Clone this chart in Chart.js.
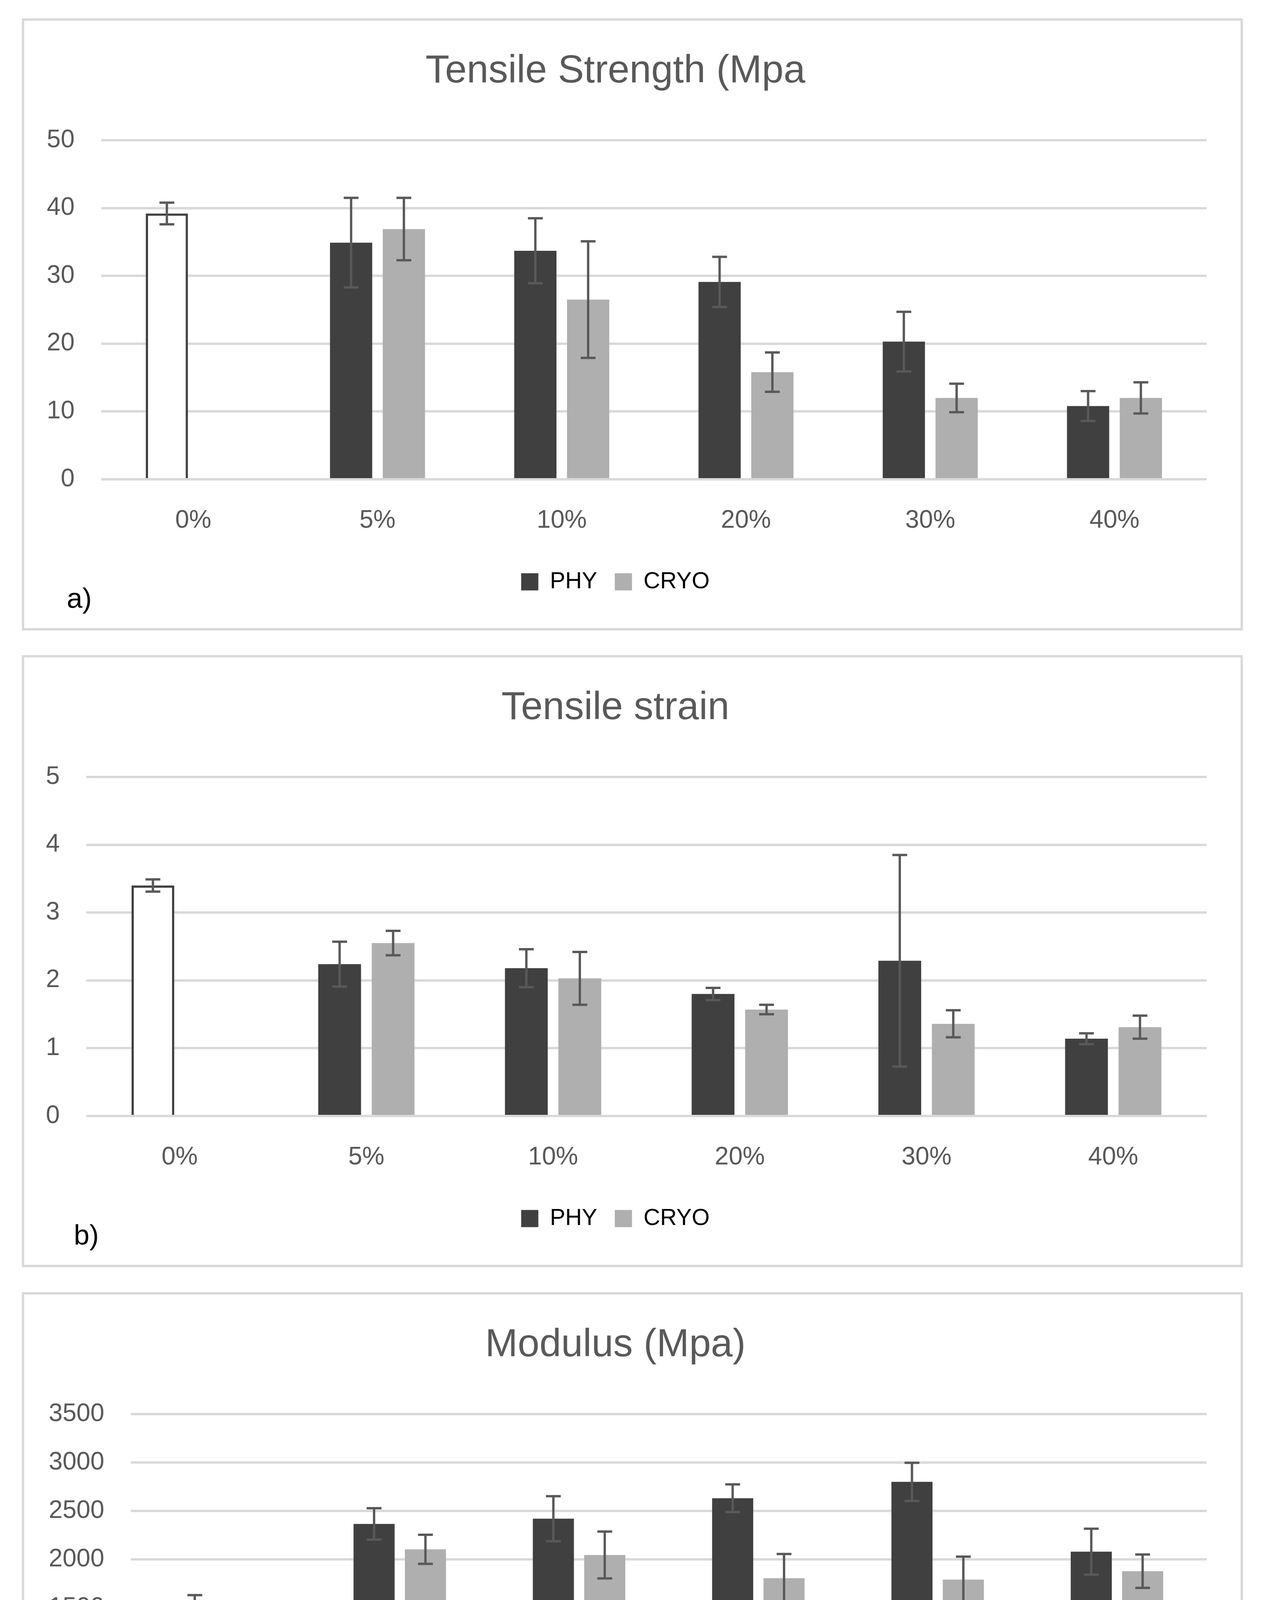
<!DOCTYPE html>
<html lang="en">
<head>
<meta charset="UTF-8">
<title>Tensile Strength, Tensile strain, Modulus</title>
<script src="https://cdn.jsdelivr.net/npm/chart.js@4.4.1/dist/chart.umd.min.js"></script>
<style>
  body { margin: 0; width: 3237px; height: 4917px; background: #fff; position: relative; font-family: "Liberation Sans", Arial, sans-serif; }
  .panel { position: absolute; left: 56px; width: 3115px; height: 1555px; border: 6px solid #d9d9d9; background: #fff; }
  .panel canvas { position: absolute; left: 0; top: 0; }
  .tag { position: absolute; font-size: 72px; line-height: 72px; color: #000; }
</style>
</head>
<body>
  <div class="panel" style="top:47px"><canvas id="c1" width="3115" height="1555"></canvas><div class="tag" style="left:109px; top:1442px">a)</div></div>
  <div class="panel" style="top:1677px"><canvas id="c2" width="3115" height="1555"></canvas><div class="tag" style="left:127px; top:1442px">b)</div></div>
  <div class="panel" style="top:3308px"><canvas id="c3" width="3115" height="1555"></canvas><div class="tag" style="left:89px; top:1400px">c)</div></div>

<script>
  // categories
  const categories = ['0%', '5%', '10%', '20%', '30%', '40%'];

  // a) tensile strength (Mpa)
  const strengthPhy     = [39.2, 34.9, 33.7, 29.1, 20.3, 10.8];
  const strengthPhyErr  = [1.6, 6.6, 4.8, 3.7, 4.4, 2.2];
  const strengthCryo    = [null, 36.9, 26.5, 15.8, 12.0, 12.0];
  const strengthCryoErr = [null, 4.6, 8.6, 2.9, 2.1, 2.3];

  // b) tensile strain
  const strainPhy     = [3.40, 2.24, 2.18, 1.80, 2.29, 1.14];
  const strainPhyErr  = [0.09, 0.33, 0.28, 0.09, 1.56, 0.08];
  const strainCryo    = [null, 2.55, 2.03, 1.57, 1.36, 1.31];
  const strainCryoErr = [null, 0.18, 0.39, 0.07, 0.20, 0.17];

  // c) modulus (Mpa)
  const modulusPhy     = [1557, 2366, 2420, 2631, 2800, 2080];
  const modulusPhyErr  = [74, 162, 232, 143, 197, 237];
  const modulusCryo    = [null, 2104, 2045, 1805, 1791, 1878];
  const modulusCryoErr = [null, 150, 242, 250, 237, 172];

  const PHY_COLOR = '#404040';
  const CRYO_COLOR = '#afafaf';
  const TEXT = '#595959';

  // draws +/- error bars on top of each bar
  const errorBars = {
    id: 'errorBars',
    afterDatasetsDraw(chart) {
      const ctx = chart.ctx;
      const y = chart.scales.y;
      chart.data.datasets.forEach((ds, i) => {
        const meta = chart.getDatasetMeta(i);
        meta.data.forEach((bar, j) => {
          const v = ds.data[j], e = ds.errors[j];
          if (v == null || e == null) return;
          const top = y.getPixelForValue(v + e);
          const bot = y.getPixelForValue(v - e);
          ctx.save();
          ctx.strokeStyle = TEXT;
          ctx.lineWidth = 6;
          ctx.beginPath();
          ctx.moveTo(bar.x, top); ctx.lineTo(bar.x, bot);
          ctx.moveTo(bar.x - 19, top); ctx.lineTo(bar.x + 19, top);
          ctx.moveTo(bar.x - 19, bot); ctx.lineTo(bar.x + 19, bot);
          ctx.stroke();
          ctx.restore();
        });
      });
    }
  };

  function makeChart(id, title, phy, phyErr, cryo, cryoErr, yMax, yStep, yWidth) {
    const ctx = document.getElementById(id).getContext('2d');
    return new Chart(ctx, {
      type: 'bar',
      data: {
        labels: categories,
        datasets: [
          {
            label: 'PHY',
            data: phy,
            errors: phyErr,
            // first bar (0%) is the hollow control bar
            backgroundColor: phy.map((v, i) => i === 0 ? '#ffffff' : PHY_COLOR),
            borderColor: PHY_COLOR,
            borderWidth: phy.map((v, i) => i === 0 ? 6 : 0),
            categoryPercentage: 0.573,
            barPercentage: 0.8
          },
          {
            label: 'CRYO',
            data: cryo,
            errors: cryoErr,
            backgroundColor: CRYO_COLOR,
            borderWidth: 0,
            categoryPercentage: 0.573,
            barPercentage: 0.8
          }
        ]
      },
      options: {
        responsive: false,
        animation: false,
        devicePixelRatio: 1,
        layout: { padding: { top: 0, right: 87, bottom: 79, left: 0 } },
        plugins: {
          title: {
            display: true,
            text: title,
            color: TEXT,
            font: { family: 'Liberation Sans', size: 100, weight: 'normal', lineHeight: 1.2 },
            padding: { top: 70, bottom: 116 }
          },
          legend: {
            position: 'bottom',
            labels: {
              color: TEXT,
              font: { family: 'Liberation Sans', size: 59 },
              boxWidth: 44,
              boxHeight: 44,
              padding: 45,
              generateLabels: () => [
                { text: 'PHY', fillStyle: PHY_COLOR, strokeStyle: PHY_COLOR, lineWidth: 0, hidden: false, datasetIndex: 0 },
                { text: 'CRYO', fillStyle: CRYO_COLOR, strokeStyle: CRYO_COLOR, lineWidth: 0, hidden: false, datasetIndex: 1 }
              ]
            }
          },
          tooltip: { enabled: false }
        },
        scales: {
          x: {
            grid: { display: false },
            border: { display: false },
            ticks: { color: TEXT, font: { family: 'Liberation Sans', size: 64 }, padding: 60, maxRotation: 0 },
            afterFit: s => { s.height = 188; }
          },
          y: {
            min: 0,
            max: yMax,
            ticks: {
              stepSize: yStep,
              color: TEXT,
              font: { family: 'Liberation Sans', size: 64 },
              padding: 68,
              callback: v => String(v)
            },
            grid: { color: '#d9d9d9', lineWidth: 6, drawTicks: false },
            border: { display: false },
            afterFit: s => { s.width = yWidth; }
          }
        }
      },
      plugins: [errorBars]
    });
  }

  makeChart('c1', 'Tensile Strength (Mpa', strengthPhy, strengthPhyErr, strengthCryo, strengthCryoErr, 50, 10, 197);
  makeChart('c2', 'Tensile strain', strainPhy, strainPhyErr, strainCryo, strainCryoErr, 5, 1, 159);
  makeChart('c3', 'Modulus (Mpa)', modulusPhy, modulusPhyErr, modulusCryo, modulusCryoErr, 3500, 500, 273);
</script>
</body>
</html>
